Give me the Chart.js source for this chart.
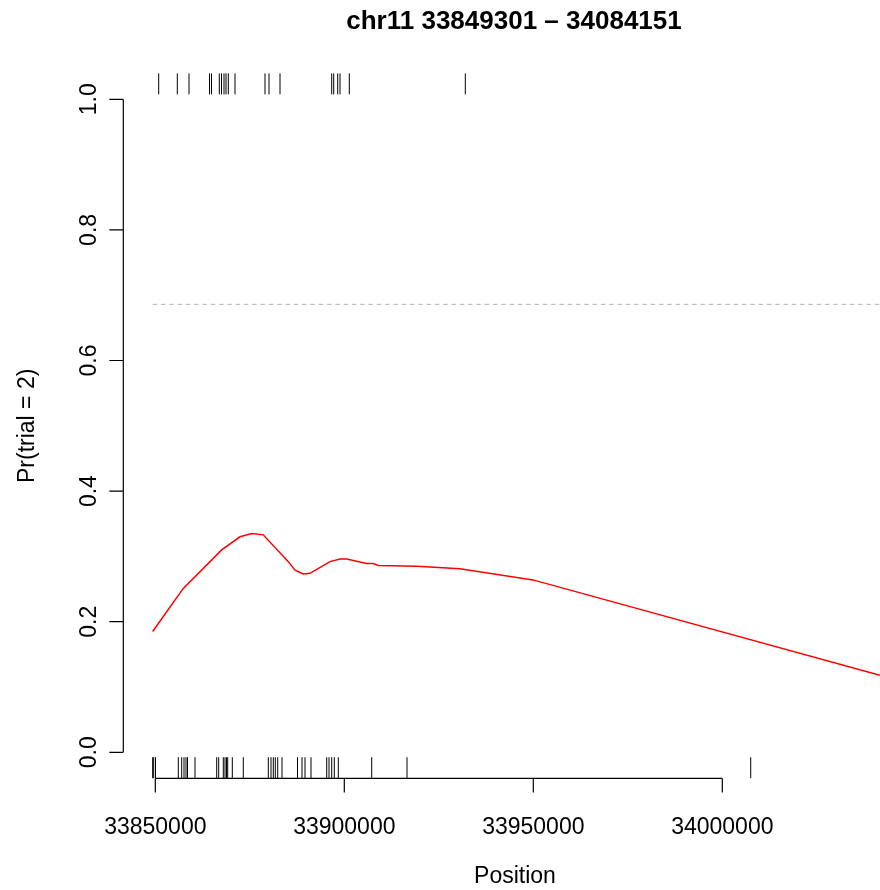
<!DOCTYPE html>
<html>
<head>
<meta charset="utf-8">
<script src="https://cdn.jsdelivr.net/npm/chart.js@4/dist/chart.umd.min.js"></script>
<style>
  html, body { margin: 0; padding: 0; background: #ffffff; }
  canvas { display: block; }
</style>
</head>
<body>
<canvas id="chart" width="880" height="890"></canvas>
<script>
// ---- data ----
const TITLE = "chr11 33849301 \u2013 34084151";
const X_LABEL = "Position";
const Y_LABEL = "Pr(trial = 2)";
const REGION = [33849301, 34084151];

// fitted probability along the region
const curvePos = [33849301, 33857407, 33867566, 33872407, 33875503, 33878571,
                  33885185, 33886957, 33889153, 33890926, 33896217, 33898862,
                  33900635, 33905926, 33907672, 33908995, 33919153, 33930608,
                  33949919, 34041700];
const curveProb = [0.185, 0.251, 0.310, 0.330, 0.335, 0.333,
                   0.292, 0.279, 0.273, 0.274, 0.292, 0.296,
                   0.296, 0.289, 0.289, 0.286, 0.285, 0.281,
                   0.264, 0.118];

// significance threshold
const threshold = 0.686;

// marker positions: trial 2 (top) and trial 1 (bottom)
const topRug = [33850899, 33855820, 33858915, 33864339, 33864868, 33866931,
                33867513, 33868175, 33868704, 33869312, 33871085, 33879021,
                33880079, 33882989, 33896667, 33897196, 33898254, 33898862,
                33901323, 33932011];
const bottomRug = [33849301, 33849577, 33850053, 33856085, 33856984, 33857593,
                   33858122, 33858518, 33860503, 33866243, 33866772, 33867989,
                   33868439, 33868836, 33869153, 33870370, 33873280, 33879894,
                   33880608, 33881217, 33881746, 33882381, 33883518, 33887619,
                   33888809, 33889603, 33891190, 33895344, 33895952, 33896667,
                   33897354, 33898413, 33907249, 33916587, 34007513];

const xTicks = [33850000, 33900000, 33950000, 34000000];
const xTickLabels = ["33850000", "33900000", "33950000", "34000000"];
const yTicks = [0, 0.2, 0.4, 0.6, 0.8, 1.0];
const yTickLabels = ["0.0", "0.2", "0.4", "0.6", "0.8", "1.0"];

// ---- view ----
const X_MIN = 33841534, X_MAX = 34041717;
const Y_MIN = -0.04, Y_MAX = 1.04;
const RUG_FRAC = 0.03;                       // rug length as a share of the plot height
const rugHalf = (Y_MAX - Y_MIN) * RUG_FRAC / 2;
const FONT = '"Liberation Sans", Arial, Helvetica, sans-serif';

const toPoints = (xs, ys) => xs.map((v, i) => ({ x: v, y: ys[i] }));
const rugPoints = (xs, yv) => xs.map(v => ({ x: v, y: yv }));

const rugStyle = {
  type: 'scatter',
  showLine: false,
  pointStyle: 'line',
  rotation: 90,
  pointRadius: 10.6,
  pointBorderColor: '#000000',
  pointBorderWidth: 1,
  pointBackgroundColor: '#000000'
};

// base-graphics style axes, tick labels and titles
const baseAxes = {
  id: 'baseAxes',
  afterDraw(chart) {
    const { ctx, chartArea: a, scales: { x, y } } = chart;
    ctx.save();
    ctx.strokeStyle = '#000000';
    ctx.fillStyle = '#000000';
    ctx.lineWidth = 1.2;
    const tick = 14;

    // x axis
    const x0 = x.getPixelForValue(xTicks[0]);
    const x1 = x.getPixelForValue(xTicks[xTicks.length - 1]);
    ctx.beginPath();
    ctx.moveTo(x0, a.bottom);
    ctx.lineTo(x1, a.bottom);
    xTicks.forEach(v => {
      const p = x.getPixelForValue(v);
      ctx.moveTo(p, a.bottom);
      ctx.lineTo(p, a.bottom + tick);
    });
    // y axis
    const y0 = y.getPixelForValue(yTicks[0]);
    const y1 = y.getPixelForValue(yTicks[yTicks.length - 1]);
    ctx.moveTo(a.left, y0);
    ctx.lineTo(a.left, y1);
    yTicks.forEach(v => {
      const p = y.getPixelForValue(v);
      ctx.moveTo(a.left, p);
      ctx.lineTo(a.left - tick, p);
    });
    ctx.stroke();

    // tick labels
    ctx.font = '23px ' + FONT;
    ctx.textAlign = 'center';
    ctx.textBaseline = 'alphabetic';
    xTicks.forEach((v, i) => ctx.fillText(xTickLabels[i], x.getPixelForValue(v), 834));
    yTicks.forEach((v, i) => {
      ctx.save();
      ctx.translate(96, y.getPixelForValue(v));
      ctx.rotate(-Math.PI / 2);
      ctx.fillText(yTickLabels[i], 0, 0);
      ctx.restore();
    });

    // axis titles
    ctx.fillText(X_LABEL, 515, 883);
    ctx.save();
    ctx.translate(33.5, (a.top + a.bottom) / 2);
    ctx.rotate(-Math.PI / 2);
    ctx.fillText(Y_LABEL, 0, 0);
    ctx.restore();

    // main title
    ctx.font = 'bold 26px ' + FONT;
    ctx.fillText(TITLE, 514, 28.5);
    ctx.restore();
  }
};

new Chart(document.getElementById('chart'), {
  type: 'line',
  data: {
    datasets: [
      {
        label: 'threshold',
        data: toPoints(REGION, [threshold, threshold]),
        borderColor: '#b3b3b3',
        borderWidth: 1,
        borderDash: [4.5, 3.8],
        pointRadius: 0,
        fill: false
      },
      {
        label: 'Pr(trial = 2)',
        data: toPoints(curvePos, curveProb),
        borderColor: '#ff0000',
        borderWidth: 1.5,
        pointRadius: 0,
        tension: 0,
        fill: false
      },
      Object.assign({ label: 'trial 2 markers', data: rugPoints(topRug, Y_MAX - rugHalf) }, rugStyle),
      Object.assign({ label: 'trial 1 markers', data: rugPoints(bottomRug, Y_MIN + rugHalf) }, rugStyle)
    ]
  },
  options: {
    responsive: false,
    animation: false,
    events: [],
    layout: { autoPadding: false, padding: { left: 123.3, top: 73.2, right: 0, bottom: 111.6 } },
    plugins: { legend: { display: false }, tooltip: { enabled: false }, title: { display: false } },
    scales: {
      x: { type: 'linear', min: X_MIN, max: X_MAX, display: false },
      y: { type: 'linear', min: Y_MIN, max: Y_MAX, display: false }
    }
  },
  plugins: [baseAxes]
});
</script>
</body>
</html>
